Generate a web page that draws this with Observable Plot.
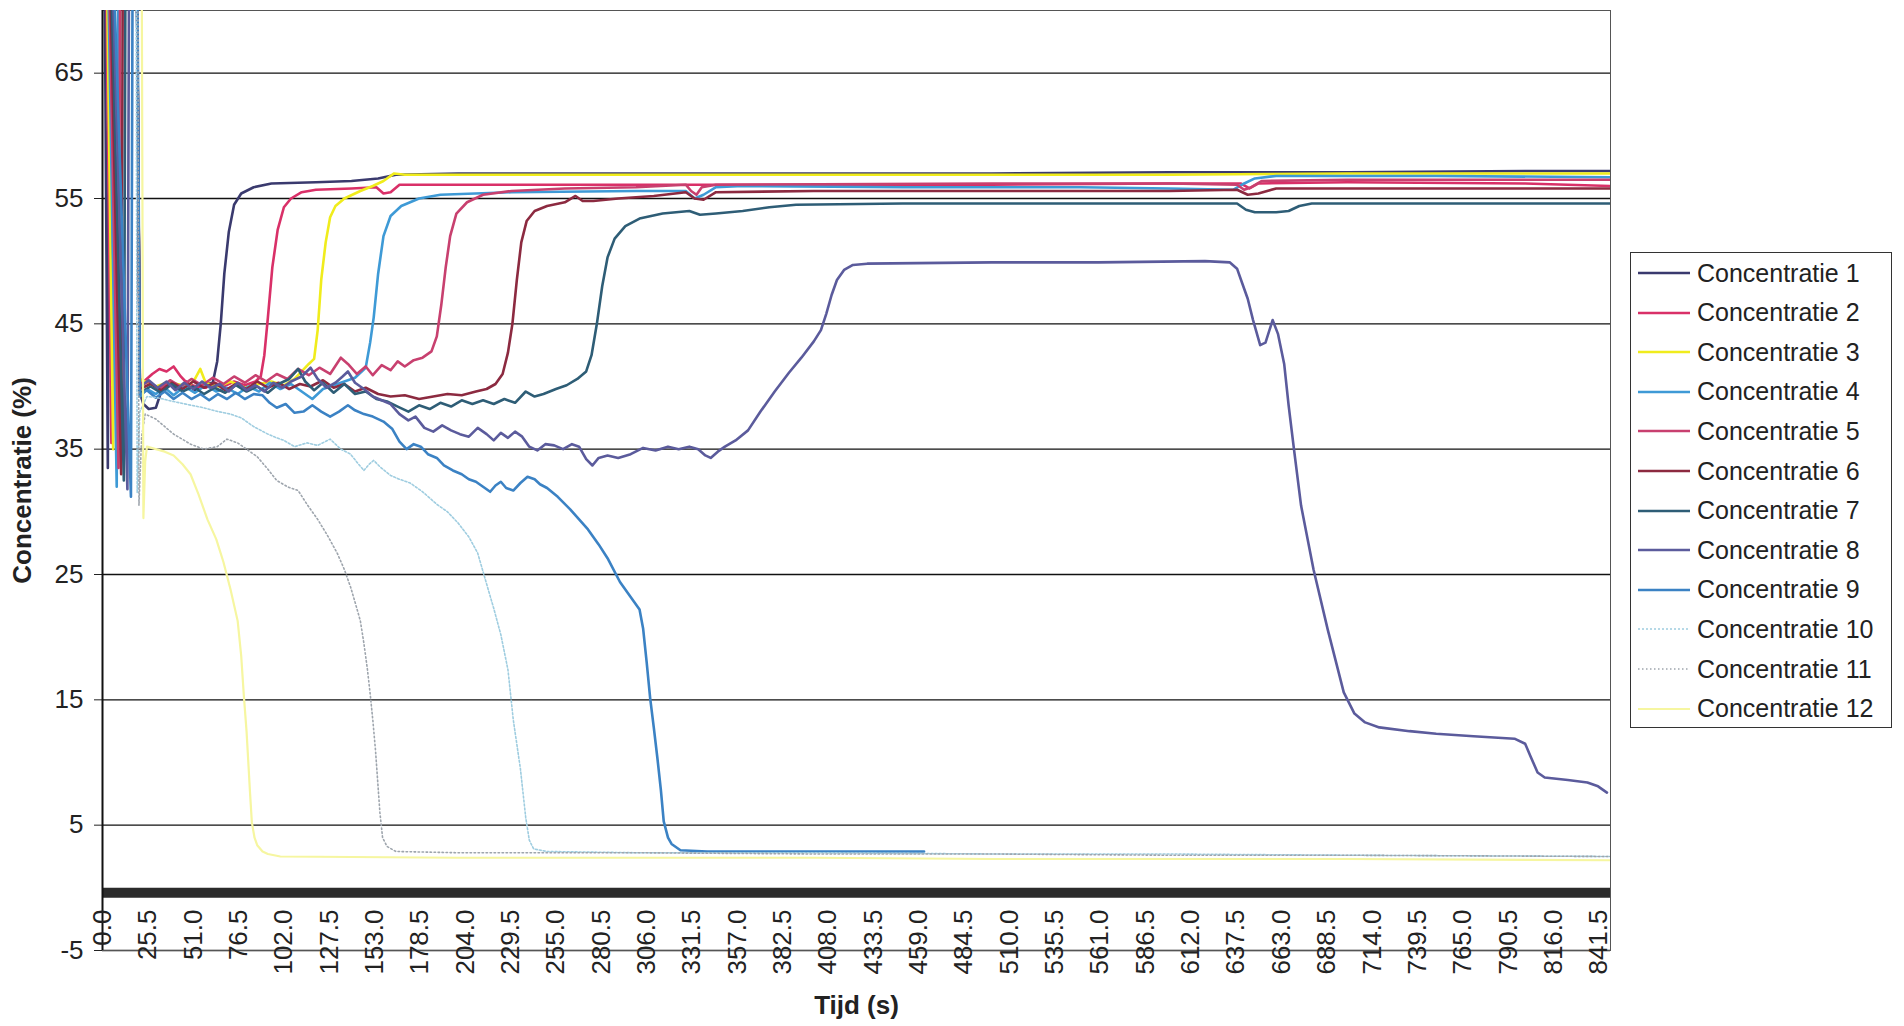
<!DOCTYPE html>
<html><head><meta charset="utf-8">
<script src="https://cdn.jsdelivr.net/npm/d3@7"></script>
<script src="https://cdn.jsdelivr.net/npm/@observablehq/plot@0.6"></script>
<style>
html,body{margin:0;padding:0;background:#fff;}
#chart{position:absolute;left:0;top:0;}
#legend{position:absolute;left:1630px;top:252px;width:262px;height:476px;border:1.5px solid #333;box-sizing:border-box;font-family:"Liberation Sans",Arial,sans-serif;font-size:25px;color:#222;background:#fff;}
.item{position:absolute;left:7px;height:30px;display:flex;align-items:center;white-space:nowrap;}
.item svg{margin-right:7px;}
</style></head><body>
<div id="chart"></div><div id="legend"></div>
<script>
// ---- data: [time (s), concentration (%)] ----
const seriesNames = ["Concentratie 1","Concentratie 2","Concentratie 3","Concentratie 4","Concentratie 5","Concentratie 6","Concentratie 7","Concentratie 8","Concentratie 9","Concentratie 10","Concentratie 11","Concentratie 12"];
const xTickValues = d3.range(0, 34).map(i => i * 25.5);
const yTickValues = [-5, 5, 15, 25, 35, 45, 55, 65];

const conc1 = [[0,100],[3,33.5],[4.5,100],[18,100],[21,39.5],[23,38.6],[26,38.2],[30,38.3],[33,39.6],[37,40.3],[42,39.8],[47,40.4],[52,39.7],[57,40.2],[62,40.3],[64.5,42],[66.5,45],[68.5,49],[71,52.3],[74,54.5],[78,55.4],[85,55.9],[95,56.2],[120,56.3],[140,56.4],[155,56.6],[165,56.9],[200,57.0],[300,57.0],[400,57.0],[500,57.0],[600,57.1],[700,57.1],[800,57.2],[848,57.2]];
const conc2 = [[0,100],[5,35.5],[6.5,100],[18,100],[21,40.2],[24,40.5],[28,41.0],[32,41.4],[36,41.2],[40,41.6],[44,40.8],[48,40.2],[53,40.0],[58,39.9],[63,40.3],[68,40.0],[74,40.4],[80,40.1],[86,40.4],[89,40.8],[91,42.5],[93,45.5],[95.5,49.5],[98.5,52.5],[102,54.3],[106,55.0],[112,55.5],[120,55.7],[140,55.8],[154,55.9],[158,55.4],[162,55.5],[167,56.1],[200,56.1],[300,56.1],[400,56.1],[500,56.1],[600,56.2],[640,56.2],[645,55.8],[650,56.2],[700,56.3],[800,56.2],[848,56.0]];
const conc3 = [[0,100],[6,35],[7.5,100],[18,100],[21,40.6],[25,40.3],[30,40.0],[36,40.3],[42,40.2],[48,40.0],[52,40.6],[55,41.4],[58,40.3],[65,40.0],[72,40.4],[80,39.9],[88,40.2],[95,40.4],[102,40.1],[108,40.6],[112,41.2],[116,41.8],[119,42.2],[121,44.5],[123,48.5],[125.5,51.5],[128,53.5],[131,54.4],[136,55.0],[145,55.6],[152,56.0],[158,56.4],[164,57.0],[170,56.9],[200,56.9],[400,56.9],[600,56.9],[700,57.0],[848,57.0]];
const conc4 = [[0,100],[8,32],[9.5,100],[18,100],[21,39.2],[25,39.8],[30,39.4],[35,39.9],[40,39.3],[46,40.0],[52,39.5],[58,40.1],[64,39.6],[70,39.9],[76,39.4],[82,40.0],[88,39.6],[94,40.3],[100,39.8],[106,40.2],[112,39.6],[118,39.0],[124,39.8],[130,40.1],[136,40.4],[142,40.7],[148,41.5],[150.5,43.5],[152.5,45.5],[155,49],[158,52],[162,53.6],[168,54.4],[178,55.0],[190,55.3],[230,55.5],[300,55.6],[328,55.6],[333,55.0],[338,55.3],[345,55.9],[360,56.0],[450,55.9],[550,55.9],[600,55.8],[636,55.7],[642,56.2],[648,56.6],[660,56.8],[750,56.8],[848,56.7]];
const conc5 = [[0,100],[9,33.5],[10.5,100],[18,100],[21,40.0],[26,40.4],[32,39.8],[38,40.5],[44,40.0],[50,40.6],[56,40.1],[62,40.7],[68,40.2],[74,40.8],[80,40.3],[86,40.9],[92,40.4],[98,41.0],[104,40.6],[110,41.4],[116,40.9],[122,41.5],[128,41.0],[134,42.3],[138,41.8],[143,41.0],[148,41.6],[152,40.9],[157,41.7],[162,41.3],[166,42.0],[170,41.6],[175,42.1],[180,42.3],[185,42.8],[188,44],[190.5,46.5],[193,49.5],[195.5,52],[199,53.8],[205,54.7],[214,55.3],[230,55.6],[260,55.8],[300,55.9],[328,56.1],[331,55.6],[334,55.3],[337,55.9],[345,56.1],[500,56.2],[600,56.2],[638,56.1],[642,55.7],[646,55.9],[652,56.4],[700,56.5],[848,56.5]];
const conc6 = [[0,100],[10.5,33],[12,100],[18,100],[21,39.8],[27,40.2],[33,39.7],[39,40.3],[45,39.8],[51,40.4],[57,39.9],[63,40.3],[69,39.7],[75,40.2],[81,39.8],[87,40.4],[93,39.9],[99,40.3],[105,39.8],[111,40.2],[117,40.0],[124,40.5],[130,39.9],[136,40.2],[142,39.6],[148,39.9],[155,39.4],[162,39.2],[170,39.3],[178,39.0],[186,39.2],[194,39.4],[202,39.3],[210,39.6],[216,39.8],[221,40.2],[225,41],[228,42.7],[230.5,45],[233,48.5],[235.5,51.5],[238.5,53.2],[243,54.0],[250,54.4],[260,54.7],[266,55.2],[270,54.8],[276,54.8],[290,55.0],[310,55.2],[328,55.5],[333,55.0],[338,54.9],[345,55.5],[400,55.6],[500,55.6],[600,55.6],[638,55.7],[644,55.3],[650,55.4],[660,55.8],[848,55.8]];
const conc7 = [[0,100],[12,32.5],[13.5,100],[18,100],[21,39.5],[27,40.0],[33,39.5],[39,40.2],[45,39.6],[51,40.0],[57,39.4],[63,39.9],[69,39.5],[75,40.1],[81,39.6],[87,40.0],[93,39.5],[99,40.2],[105,40.6],[110,41.4],[114,40.4],[119,39.7],[124,40.3],[130,39.5],[136,40.2],[142,39.4],[148,39.6],[154,39.0],[160,38.8],[166,38.4],[172,38.0],[178,38.5],[184,38.2],[190,38.7],[196,38.4],[202,38.9],[208,38.6],[214,38.9],[220,38.6],[226,39.0],[232,38.7],[238,39.6],[243,39.2],[248,39.4],[255,39.8],[261,40.1],[267,40.6],[272,41.2],[275,42.5],[278,45],[281,48],[284,50.3],[288,51.8],[294,52.8],[302,53.4],[315,53.8],[330,54.0],[336,53.7],[345,53.8],[360,54.0],[375,54.3],[390,54.5],[450,54.6],[550,54.6],[638,54.6],[643,54.1],[648,53.9],[660,53.9],[667,54.0],[673,54.4],[680,54.6],[848,54.6]];
const conc8 = [[0,100],[14,31.8],[15.5,100],[18,100],[21,40.0],[26,40.5],[31,39.9],[36,40.4],[41,39.7],[46,40.3],[51,39.8],[56,40.4],[61,39.9],[66,40.2],[71,39.6],[76,40.3],[81,39.7],[86,40.1],[91,39.6],[96,40.3],[101,39.9],[106,40.4],[112,40.8],[117,41.5],[121,40.6],[126,39.9],[131,40.3],[135,40.8],[138,41.2],[142,40.3],[147,39.8],[152,39.2],[157,38.9],[162,38.6],[167,37.8],[172,37.3],[176,37.6],[181,36.7],[186,36.4],[191,36.9],[196,36.5],[201,36.2],[206,36.0],[211,36.7],[216,36.2],[220,35.7],[224,36.3],[228,35.9],[232,36.4],[236,36.0],[240,35.2],[244.5,34.9],[249,35.4],[254,35.3],[259,35.0],[264,35.4],[268,35.2],[272,34.2],[275.5,33.7],[279,34.3],[284,34.5],[290,34.3],[297,34.6],[304,35.1],[311,34.9],[318,35.2],[324,35.0],[330,35.2],[335,35.0],[339,34.5],[342,34.3],[346,34.8],[350,35.2],[356,35.7],[363,36.5],[370,38.0],[378,39.6],[386,41.1],[393,42.3],[400,43.6],[404,44.5],[407,45.8],[410,47.3],[413,48.5],[417,49.3],[422,49.7],[430,49.8],[500,49.9],[560,49.9],[620,50.0],[634,49.9],[638,49.4],[641,48.2],[644,47.0],[647,45.3],[651,43.3],[654,43.5],[658,45.3],[661,44.2],[664.5,41.8],[667,38.5],[670,35.0],[674,30.5],[681,25.4],[689,20.6],[698,15.6],[704,13.9],[710,13.2],[718,12.8],[735,12.5],[750,12.3],[771,12.1],[794,11.9],[800,11.5],[803,10.5],[807,9.2],[811,8.8],[824,8.6],[835,8.4],[841,8.1],[846,7.6]];
const conc9 = [[0,100],[16,31.2],[17.5,100],[18.5,100],[21,39.3],[25,39.7],[30,39.1],[35,39.6],[40,39.0],[45,39.5],[50,39.0],[55,39.4],[60,38.9],[65,39.4],[70,39.0],[75,39.5],[80,39.0],[85,39.4],[90,39.3],[94,38.7],[98,38.3],[103,38.6],[108,37.9],[113,38.0],[118,38.5],[123,38.0],[128,37.6],[133,38.0],[138,38.5],[142,38.1],[147,37.8],[152,37.6],[158,37.2],[163,36.6],[167,35.6],[171,35.0],[175,35.4],[179,35.2],[183,34.6],[188,34.3],[192,33.7],[197,33.3],[202,33.0],[206,32.6],[210,32.4],[214,32.0],[218,31.6],[221,32.1],[224,32.4],[227,31.9],[231,31.7],[235,32.3],[239,32.8],[243,32.6],[246,32.2],[250,31.9],[256,31.2],[263,30.2],[268,29.4],[273,28.6],[279,27.4],[284,26.3],[291,24.4],[299,22.8],[302,22.2],[304,20.7],[306,18],[308,15.1],[310,12.8],[312,10.4],[314,7.8],[315.6,5.3],[318,4.0],[320,3.5],[325,3.0],[340,2.9],[400,2.9],[462,2.9]];
const conc10 = [[0,100],[18.5,100],[19.5,31.5],[21,38],[25,39.2],[31,39.1],[40,38.8],[50,38.5],[57,38.3],[65,38.0],[72,37.8],[78,37.5],[85,36.8],[93,36.2],[98,35.9],[102,35.7],[108,35.2],[115,35.5],[121,35.3],[128,35.8],[134,35.0],[139.5,34.6],[144,33.8],[147,33.3],[150,33.8],[152.5,34.1],[156,33.6],[162,32.9],[167,32.6],[173,32.3],[180,31.6],[188,30.6],[194,30.0],[200,29.1],[206,28.0],[211,26.7],[216.5,24.0],[220,22.3],[224,20.2],[228,17.4],[231,13.4],[235,9.5],[238,5.6],[240,3.8],[242.5,3.1],[250,2.9],[300,2.8],[400,2.8],[500,2.7],[600,2.7],[700,2.6],[848,2.5]];
const conc11 = [[0,100],[19.5,100],[20.5,30.5],[22,36],[24,37.8],[30,37.4],[40,36.2],[49.5,35.4],[57,35.0],[64.5,35.2],[70,35.8],[76,35.5],[82,34.9],[87,34.4],[93,33.4],[98,32.5],[104,32.0],[110,31.7],[115,30.6],[121,29.4],[127,28.0],[132,26.7],[136,25.4],[139.5,24.0],[142,22.8],[145,21.3],[147,19.5],[149,17.4],[150.5,15.5],[152,13.4],[153.5,11],[154.7,8.6],[156,6.0],[157.5,4.0],[160,3.3],[165,2.9],[200,2.8],[300,2.8],[400,2.7],[500,2.7],[600,2.6],[700,2.6],[848,2.5]];
const conc12 = [[0,100],[21.5,100],[23,29.5],[24,34],[25,35.2],[30,35.0],[35,34.8],[40,34.5],[45,33.8],[49.5,33.0],[54,31.4],[59,29.4],[64,27.8],[68,26.0],[72,23.8],[76,21.3],[78,18.5],[79.5,15.3],[81,12.5],[82,10.0],[83,7.5],[84,5.2],[85.5,4.0],[87,3.4],[90,2.9],[93,2.7],[100,2.5],[200,2.4],[300,2.4],[400,2.4],[500,2.3],[600,2.3],[700,2.3],[848,2.2]];

// ---- styles ----
const seriesStyles = [
  {stroke:"#3a3a6e", w:2.6},
  {stroke:"#d93068", w:2.6},
  {stroke:"#f0ec1c", w:2.6},
  {stroke:"#3e9ad6", w:2.6},
  {stroke:"#c8406f", w:2.6},
  {stroke:"#8c2a40", w:2.6},
  {stroke:"#2e5d76", w:2.6},
  {stroke:"#5b5b9c", w:2.6},
  {stroke:"#3b82c4", w:2.6},
  {stroke:"#9fcde0", w:1.6, dash:"2,2"},
  {stroke:"#9ea5ad", w:1.6, dash:"1.5,2.5"},
  {stroke:"#f6f6a0", w:2.2}
];

const allSeries = [conc1,conc2,conc3,conc4,conc5,conc6,conc7,conc8,conc9,conc10,conc11,conc12];
const rows = allSeries.map((arr, i) => arr.map(([t, v]) => ({t, v, s: seriesNames[i]})));

const FONT = '"Liberation Sans", Arial, sans-serif';
const xDomain = [0, 848];

const marks = [
  Plot.ruleY(yTickValues, {stroke: "#111", strokeWidth: 1.4}),
  Plot.frame({stroke: "#555", strokeWidth: 1}),
  ...rows.map((data, i) => Plot.line(data, {
    x: "t", y: "v",
    stroke: seriesStyles[i].stroke,
    strokeWidth: seriesStyles[i].w,
    strokeDasharray: seriesStyles[i].dash,
    strokeLinejoin: "round",
    clip: true
  })),
  Plot.ruleY([0], {stroke: "#2b2b2b", strokeWidth: 10, dy: 5}),
  Plot.ruleX([xDomain[0]], {stroke: "#111", strokeWidth: 2}),
  Plot.text(xTickValues, {
    x: d => d, text: d => d.toFixed(1),
    frameAnchor: "bottom", dy: -41, rotate: -90,
    textAnchor: "end", lineAnchor: "middle",
    fontSize: 26, fill: "#222"
  }),
  Plot.text(["Concentratie (%)"], {
    frameAnchor: "left", dx: -80, rotate: -90,
    textAnchor: "middle", lineAnchor: "middle",
    fontSize: 26, fontWeight: "bold", fill: "#222"
  }),
  Plot.text(["Tijd (s)"], {
    frameAnchor: "bottom", dy: 55,
    textAnchor: "middle", lineAnchor: "middle",
    fontSize: 26, fontWeight: "bold", fill: "#222"
  })
];

const chart = Plot.plot({
  width: 1904,
  height: 1026,
  marginLeft: 102,
  marginRight: 294,
  marginTop: 10,
  marginBottom: 76,
  style: {fontFamily: FONT, fontSize: "26px", color: "#222", background: "#fff"},
  x: {domain: xDomain, axis: null},
  y: {domain: [-5, 70], ticks: yTickValues, tickSize: 8, tickPadding: 11, label: null, tickFormat: d => String(d)},
  marks
});
document.getElementById("chart").appendChild(chart);

// ---- legend ----
const legend = document.getElementById("legend");
seriesNames.forEach((name, i) => {
  const st = seriesStyles[i];
  const item = document.createElement("div");
  item.className = "item";
  item.style.top = (20 + i * 39.6 - 15) + "px";
  item.innerHTML = `<svg width="52" height="8"><line x1="0" x2="52" y1="4" y2="4" stroke="${st.stroke}" stroke-width="${st.w}" ${st.dash ? `stroke-dasharray="${st.dash}"` : ""}/></svg><span>${name}</span>`;
  legend.appendChild(item);
});
</script>
</body></html>
